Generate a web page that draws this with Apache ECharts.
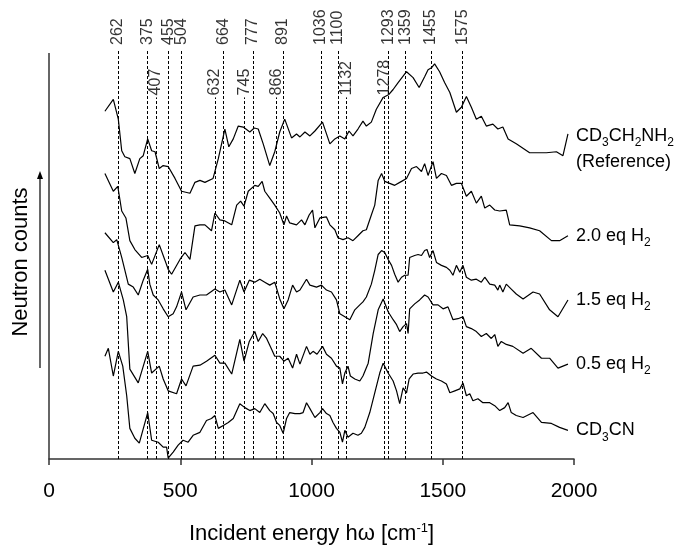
<!DOCTYPE html>
<html>
<head>
<meta charset="utf-8">
<script src="https://cdn.jsdelivr.net/npm/echarts@6/dist/echarts.min.js"></script>
<style>
  html, body { margin: 0; padding: 0; background: #fff; }
  #chart { width: 677px; height: 550px; }
</style>
</head>
<body>
<div id="chart"></div>
<script>
// peak positions (cm-1), upper and lower label rows
const peaksTop = [262, 375, 455, 504, 664, 777, 891, 1036, 1100, 1293, 1359, 1455, 1575];
const peaksLow = [407, 632, 745, 866, 1132, 1278];
const xTicks = [0, 500, 1000, 1500, 2000];

// spectra, [energy cm-1, neutron counts (offset, a.u.)]
const refSpec = [[213,352],[245,364],[264,344],[277,312],[289,306],[308,304],[327,289],[346,304],[359,307],[376,324],[391,312],[404,311],[420,294],[435,297],[454,296],[480,284],[505,271],[537,269],[556,280],[575,282],[594,280],[625,284],[645,304],[670,334],[685,316],[702,324],[721,337],[740,336],[765,331],[782,335],[797,334],[816,319],[841,297],[860,311],[879,331],[898,344],[924,325],[943,329],[956,326],[975,331],[994,327],[1013,332],[1042,341],[1070,319],[1089,324],[1108,327],[1127,324],[1143,332],[1158,327],[1177,334],[1196,342],[1209,337],[1228,341],[1247,354],[1273,366],[1295,369],[1311,374],[1330,381],[1362,392],[1387,386],[1410,376],[1431,387],[1444,394],[1457,396],[1469,400],[1488,392],[1507,381],[1527,371],[1552,351],[1571,356],[1590,367],[1609,356],[1628,344],[1647,347],[1666,337],[1691,339],[1710,334],[1729,336],[1749,324],[1780,319],[1831,310],[1895,310],[1933,311],[1958,307],[1977,329]];

const h2_20 = [[213,289],[245,271],[262,276],[277,251],[293,244],[308,221],[327,212],[353,204],[376,206],[391,197],[420,217],[442,201],[454,192],[467,187],[499,202],[518,209],[537,202],[556,236],[575,237],[594,237],[619,231],[632,249],[651,242],[670,241],[696,237],[715,257],[730,261],[743,256],[759,271],[784,277],[797,276],[812,281],[822,271],[841,264],[860,257],[879,249],[895,237],[905,246],[917,239],[943,237],[962,242],[975,237],[991,247],[1004,252],[1013,234],[1032,244],[1057,245],[1070,237],[1089,232],[1101,224],[1120,222],[1139,224],[1158,221],[1177,226],[1196,231],[1209,232],[1228,247],[1241,257],[1254,282],[1267,289],[1279,281],[1298,279],[1317,277],[1343,281],[1362,284],[1381,294],[1400,296],[1419,291],[1431,299],[1444,287],[1463,301],[1476,284],[1495,289],[1514,287],[1533,277],[1552,279],[1571,279],[1590,266],[1609,271],[1628,259],[1647,266],[1660,254],[1679,257],[1698,252],[1717,251],[1742,252],[1755,237],[1793,236],[1831,234],[1869,231],[1914,221],[1945,221],[1977,226]];

const h2_15 = [[213,229],[245,219],[258,222],[277,204],[302,177],[321,174],[340,166],[359,181],[376,192],[384,177],[397,166],[416,161],[435,152],[454,144],[473,147],[486,154],[505,169],[522,151],[549,164],[575,166],[600,166],[632,172],[651,169],[670,171],[696,156],[727,181],[743,169],[763,181],[784,179],[803,182],[822,179],[841,176],[860,179],[879,162],[895,152],[911,161],[928,176],[943,169],[956,171],[981,182],[994,176],[1019,174],[1038,176],[1057,171],[1076,169],[1095,161],[1108,147],[1127,144],[1146,141],[1165,151],[1184,156],[1196,159],[1209,164],[1228,177],[1241,191],[1254,207],[1267,211],[1279,209],[1292,202],[1305,196],[1317,187],[1330,179],[1343,184],[1355,186],[1368,186],[1374,204],[1393,206],[1406,207],[1419,206],[1431,211],[1440,212],[1450,204],[1463,211],[1476,199],[1495,196],[1514,194],[1527,191],[1539,186],[1552,196],[1565,189],[1577,196],[1590,184],[1609,181],[1628,182],[1647,179],[1660,184],[1679,177],[1698,176],[1710,171],[1717,176],[1729,169],[1742,177],[1761,172],[1780,167],[1806,162],[1844,169],[1869,167],[1907,151],[1939,144],[1977,161]];

const h2_05 = [[213,191],[245,169],[264,179],[283,161],[296,144],[308,91],[340,77],[376,109],[391,87],[420,94],[435,81],[454,69],[486,66],[505,81],[522,74],[549,94],[575,95],[600,99],[632,105],[651,97],[670,97],[696,86],[727,121],[743,99],[763,119],[784,129],[797,119],[814,127],[829,122],[848,111],[860,104],[879,104],[895,99],[911,102],[928,92],[943,106],[956,96],[981,114],[994,106],[1006,109],[1021,106],[1042,114],[1057,106],[1076,102],[1095,94],[1108,92],[1118,76],[1127,87],[1139,94],[1148,84],[1165,81],[1184,79],[1196,84],[1216,97],[1235,127],[1254,151],[1273,162],[1292,149],[1311,141],[1324,136],[1336,129],[1349,134],[1362,137],[1368,127],[1374,152],[1393,157],[1412,161],[1431,166],[1444,164],[1463,156],[1482,156],[1501,152],[1520,154],[1539,141],[1558,142],[1577,144],[1590,134],[1609,132],[1628,129],[1647,124],[1666,127],[1685,122],[1698,126],[1710,114],[1723,119],[1742,116],[1767,114],[1806,107],[1837,112],[1876,102],[1907,102],[1939,92],[1977,96]];

const cd3cn = [[213,104],[226,112],[245,84],[264,109],[281,94],[296,64],[308,31],[327,21],[344,16],[376,47],[391,19],[416,17],[435,12],[448,12],[454,1],[473,7],[492,14],[511,19],[530,17],[549,24],[575,27],[600,39],[619,41],[632,44],[645,31],[664,34],[683,37],[702,41],[727,56],[746,52],[765,49],[784,51],[803,47],[822,56],[841,49],[854,46],[867,37],[879,34],[892,26],[905,41],[917,47],[937,46],[956,46],[968,47],[981,57],[994,51],[1013,42],[1032,47],[1042,51],[1057,46],[1070,44],[1082,37],[1095,31],[1108,27],[1118,17],[1127,29],[1139,22],[1158,26],[1177,24],[1190,26],[1203,32],[1222,47],[1241,67],[1260,87],[1273,97],[1292,87],[1311,79],[1324,69],[1336,56],[1349,72],[1362,67],[1372,81],[1387,86],[1406,87],[1425,87],[1438,88],[1457,84],[1476,81],[1495,79],[1514,76],[1527,67],[1546,69],[1565,71],[1577,77],[1590,64],[1603,66],[1615,59],[1634,61],[1653,57],[1679,57],[1698,54],[1717,49],[1736,52],[1749,57],[1761,47],[1780,44],[1806,42],[1844,47],[1876,37],[1914,36],[1945,32],[1977,29]];

const spectra = [
  { name: 'CD3CH2NH2', data: refSpec, label: 'CD{s|3}CH{s|2}NH{s|2}\n(Reference)', offset: [0, 15] },
  { name: '2.0 eq H2', data: h2_20, label: '2.0 eq H{s|2}', offset: [0, 0] },
  { name: '1.5 eq H2', data: h2_15, label: '1.5 eq H{s|2}', offset: [0, 0] },
  { name: '0.5 eq H2', data: h2_05, label: '0.5 eq H{s|2}', offset: [0, 0] },
  { name: 'CD3CN', data: cd3cn, label: 'CD{s|3}CN', offset: [0, 0] }
];

const FONT = "'Liberation Sans', Arial, sans-serif";
const chart = echarts.init(document.getElementById('chart'));

const subRich = {
  s: { fontSize: 12, fontFamily: FONT, color: '#000', verticalAlign: 'bottom', lineHeight: 26 }
};

const series = spectra.map(function (sp) {
  return {
    name: sp.name,
    type: 'line',
    data: sp.data,
    showSymbol: false,
    symbol: 'none',
    lineStyle: { color: '#000', width: 1.2 },
    endLabel: {
      show: true,
      formatter: sp.label,
      fontSize: 18,
      fontFamily: FONT,
      color: '#000',
      distance: 8,
      offset: sp.offset,
      lineHeight: 26,
      rich: subRich
    },
    z: 3
  };
});

const lineMarks = peaksTop.map(function (p) {
  return [{ coord: [p, 0] }, { coord: [p, 415] }];
}).concat(peaksLow.map(function (p) {
  return [{ coord: [p, 0] }, { coord: [p, 366] }];
}));
// y axis line
lineMarks.push([
  { coord: [0, 0], lineStyle: { type: 'solid', color: '#333', width: 1.5 } },
  { coord: [0, 411] }
]);

function peakLabel(dist) {
  return {
    show: true,
    rotate: 90,
    position: 'top',
    distance: dist,
    align: 'left',
    verticalAlign: 'middle',
    fontSize: 16,
    fontFamily: FONT,
    color: '#000',
    formatter: function (p) { return String(p.value[0]); }
  };
}

series.push({
  name: 'peaksTop',
  type: 'scatter',
  data: peaksTop.map(function (p) { return [p, 415]; }),
  symbolSize: 0,
  clip: false,
  silent: true,
  label: peakLabel(4),
  markLine: {
    silent: true,
    symbol: ['none', 'none'],
    label: { show: false },
    lineStyle: { color: '#000', width: 1, type: [3, 2] },
    data: lineMarks
  },
  z: 2
});
series.push({
  name: 'peaksLow',
  type: 'scatter',
  data: peaksLow.map(function (p) { return [p, 366]; }),
  symbolSize: 0,
  clip: false,
  silent: true,
  label: peakLabel(2),
  z: 2
});

const option = {
  animation: false,
  backgroundColor: '#fff',
  textStyle: { fontFamily: FONT },
  grid: { left: 49, right: 103, top: 49, bottom: 86, containLabel: false },
  xAxis: {
    type: 'value',
    min: 0,
    max: 2000,
    interval: 500,
    name: 'Incident energy hω [cm{sup|-1}]',
    nameLocation: 'middle',
    nameGap: 63,
    nameTextStyle: {
      fontSize: 22, fontFamily: FONT, color: '#000',
      rich: { sup: { fontSize: 13, fontFamily: FONT, color: '#000', verticalAlign: 'top', lineHeight: 24 } }
    },
    axisLine: { show: true, lineStyle: { color: '#333', width: 1.5 } },
    axisTick: { show: true, length: 6, inside: false, lineStyle: { color: '#333', width: 1.5 } },
    axisLabel: {
      fontSize: 21, fontFamily: FONT, color: '#000', margin: 22,
      formatter: function (v) { return xTicks.indexOf(v) >= 0 ? String(v) : ''; }
    },
    splitLine: { show: false }
  },
  yAxis: {
    type: 'value',
    min: 0,
    max: 415,
    name: 'Neutron counts',
    nameLocation: 'middle',
    nameRotate: 90,
    nameGap: 17,
    nameTextStyle: { fontSize: 22, fontFamily: FONT, color: '#000', padding: [0, 16, 0, 0] },
    axisLine: { show: false },
    axisTick: { show: false },
    axisLabel: { show: false },
    splitLine: { show: false }
  },
  graphic: [
    {
      type: 'line',
      shape: { x1: 40, y1: 368, x2: 40, y2: 177 },
      style: { stroke: '#000', lineWidth: 1.2 },
      silent: true
    },
    {
      type: 'polygon',
      shape: { points: [[40, 171], [37, 179], [43, 179]] },
      style: { fill: '#000' },
      silent: true
    }
  ],
  series: series
};

chart.setOption(option);
</script>
</body>
</html>
